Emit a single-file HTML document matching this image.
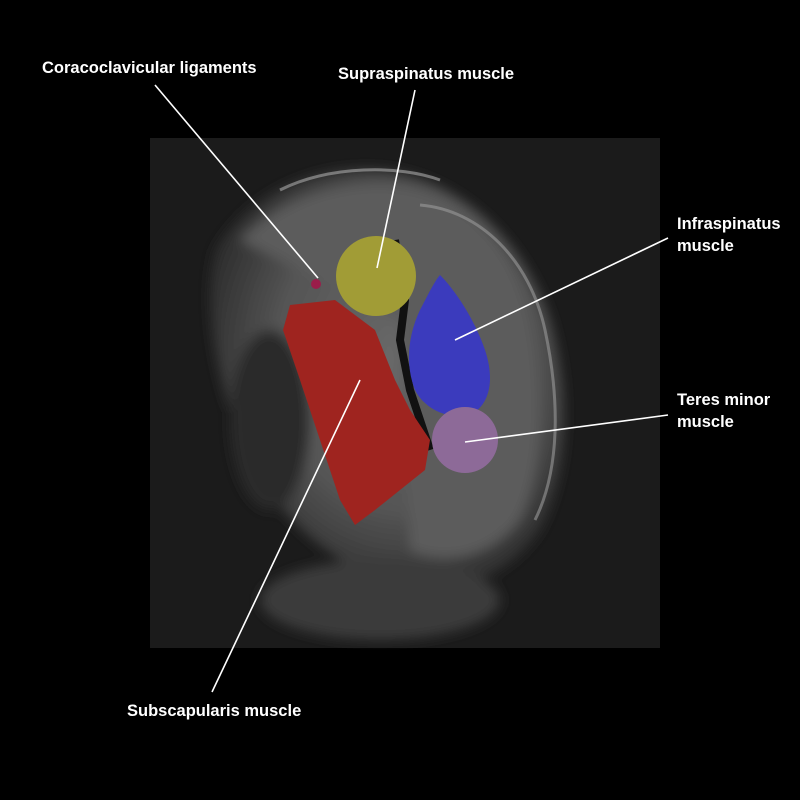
<!DOCTYPE html>
<html><head><meta charset="utf-8"><style>
html,body{margin:0;padding:0;background:#000;}
svg{display:block;}
text{font-family:"Liberation Sans",sans-serif;font-weight:bold;font-size:16.5px;fill:#fff;}
</style></head><body>
<svg width="800" height="800" viewBox="0 0 800 800" xmlns="http://www.w3.org/2000/svg">
<defs>
<radialGradient id="g1" cx="0.55" cy="0.45" r="0.6">
<stop offset="0" stop-color="#6a6a6a"/><stop offset="0.6" stop-color="#555"/><stop offset="1" stop-color="#2a2a2a"/>
</radialGradient>
<filter id="b"><feGaussianBlur stdDeviation="6"/></filter>
</defs>
<rect width="800" height="800" fill="#000"/>
<rect x="150" y="138" width="510" height="510" fill="#1b1b1b"/>
<g filter="url(#b)">
<path d="M215,250 C250,190 320,165 380,170 C450,175 520,230 550,320 C570,390 570,470 540,530 C500,590 430,600 380,580 C330,560 280,520 250,460 C220,400 200,310 215,250 Z" fill="url(#g1)"/>
<path d="M240,240 C290,190 350,180 400,185 C470,195 515,250 530,320 C545,390 545,470 520,520 C490,560 440,565 410,550 L400,320 Z" fill="#5c5c5c"/>
<ellipse cx="270" cy="420" rx="40" ry="90" fill="#2a2a2a"/>
<ellipse cx="380" cy="600" rx="120" ry="40" fill="#3a3a3a"/>
</g>
<path d="M280,190 C330,165 400,165 440,180" stroke="#aaa" stroke-width="3" fill="none" opacity="0.6"/>
<path d="M420,205 C480,210 530,260 545,330 C560,400 560,470 535,520" stroke="#999" stroke-width="3" fill="none" opacity="0.6"/>
<path d="M395,240 L405,300 L400,340 L410,390 L430,450" stroke="#111" stroke-width="8" fill="none"/>
<circle cx="376" cy="276" r="40" fill="#a19c36"/>
<path d="M440,275 C455,290 475,320 485,350 C495,380 490,405 470,415 C450,420 425,410 415,390 C405,365 408,335 420,310 C428,295 434,282 440,275 Z" fill="#3b3bbd"/>
<circle cx="465" cy="440" r="33" fill="#8d6a98"/>
<path d="M290,305 L335,300 L375,330 L395,380 L410,410 L430,440 L425,470 L400,490 L375,510 L355,525 L340,500 L320,440 L300,380 L283,330 Z" fill="#9f241f"/>
<circle cx="316" cy="284" r="5" fill="#9a1d4a"/>
<g stroke="#fff" stroke-width="1.6">
<line x1="155" y1="85" x2="318" y2="278"/>
<line x1="415" y1="90" x2="377" y2="268"/>
<line x1="668" y1="238" x2="455" y2="340"/>
<line x1="668" y1="415" x2="465" y2="442"/>
<line x1="212" y1="692" x2="360" y2="380"/>
</g>
<text x="42" y="73">Coracoclavicular ligaments</text>
<text x="338" y="79">Supraspinatus muscle</text>
<text x="677" y="229">Infraspinatus</text>
<text x="677" y="251">muscle</text>
<text x="677" y="405">Teres minor</text>
<text x="677" y="427">muscle</text>
<text x="127" y="716">Subscapularis muscle</text>
</svg>
</body></html>
